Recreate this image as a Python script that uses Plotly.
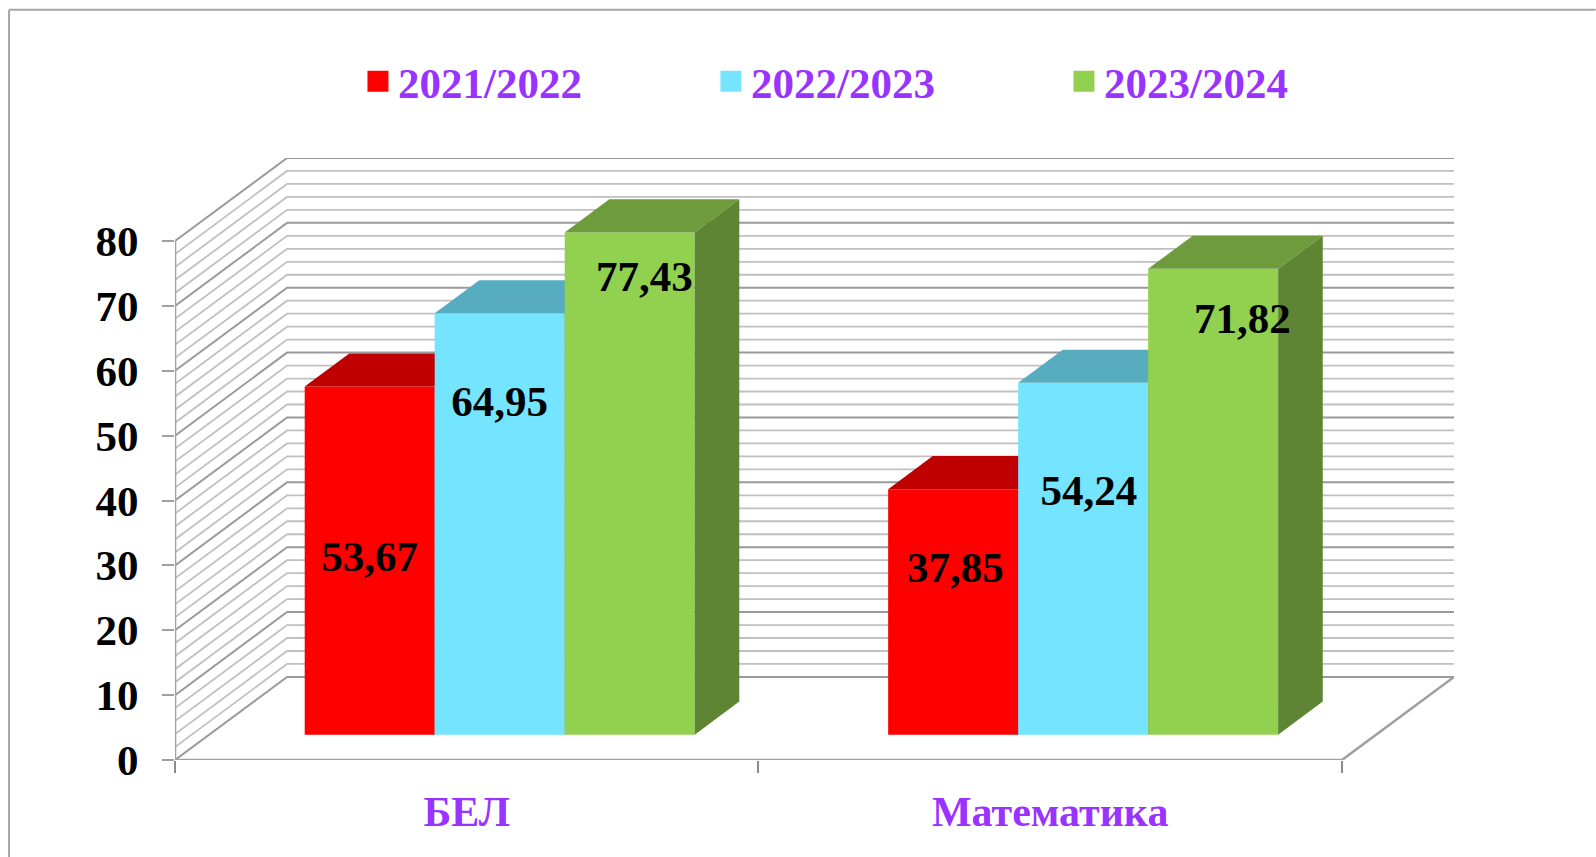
import plotly.graph_objects as go

# ---- data ----
categories = ["БЕЛ", "Математика"]
series_names = ["2021/2022", "2022/2023", "2023/2024"]
values_2122 = [53.67, 37.85]
values_2223 = [64.95, 54.24]
values_2324 = [77.43, 71.82]
label_text_2122 = ["53,67", "37,85"]
label_text_2223 = ["64,95", "54,24"]
label_text_2324 = ["77,43", "71,82"]
y_ticks = [0, 10, 20, 30, 40, 50, 60, 70, 80]
y_minor = list(range(0, 82, 2))

# ---- style / geometry ----
FRONT = ["#FF0000", "#75E5FF", "#92D050"]
TOP = ["#BE0000", "#58ACBF", "#6E9C3C"]
SIDE = ["#A80000", "#4C95A6", "#5E8533"]
PURPLE = "#9933FF"
FONT = "Liberation Serif"
FS = 43
W, H = 1596, 857
L, R, T, B = 175.0, 1454.3, 157.7, 760.0   # plot area in page pixels
CAT_PX = 583.6
UNIT_PX = 6.49
DX = (R - L) / CAT_PX - 2                    # oblique shift of the full depth, x units
DY = (B - T) / UNIT_PX - 80                  # oblique shift of the full depth, y units
XMAX, YMAX = 2 + DX, 80 + DY
BAR_W = 0.2228
GROUP_OFF = 0.1637
D_FRONT = 0.305
D_DEPTH = 0.398
# placement of the value labels (x offset from bar centre, y on the value axis)
label_dx = [[0.0, 0.004], [0.0, 0.010], [0.025, 0.050]]
label_y = [[30.75, 29.05], [54.65, 40.95], [73.95, 67.5]]

fig = go.Figure()

# ---- walls and floor ----
GRID_MAJ, GRID_MIN = "#9A9A9A", "#C0C0C0"
def wall(ys, color, width):
    xs_all, ys_all = [], []
    for y in ys:
        xs_all += [0, DX, XMAX, None]
        ys_all += [y, y + DY, y + DY, None]
    fig.add_trace(go.Scatter(x=xs_all, y=ys_all, mode="lines", showlegend=False, hoverinfo="skip",
                             line=dict(color=color, width=width), cliponaxis=False))
wall([v for v in y_minor if v % 10], GRID_MIN, 1.8)
wall(y_ticks, GRID_MAJ, 2)
fig.add_trace(go.Scatter(x=[0, 0, 2, XMAX], y=[80, 0, 0, DY], mode="lines", showlegend=False,
                         hoverinfo="skip", line=dict(color="#A0A0A0", width=2.6), cliponaxis=False))

# ---- legend entries ----
for name, col in zip(series_names, FRONT):
    fig.add_trace(go.Scatter(x=[None], y=[None], mode="markers", name=name,
                             marker=dict(symbol="square", size=16, color=col, line=dict(color=col, width=5))))

# ---- bars, one overlay per series so nearer bars hide farther faces ----
series = [values_2122, values_2223, values_2324]
base = D_FRONT * DY
for i, vals in enumerate(series):
    ax = str(i + 2)
    xa, ya = "x" + ax, "y" + ax
    lefts = [c + GROUP_OFF + D_FRONT * DX + i * BAR_W for c in range(len(categories))]
    fig.add_trace(go.Bar(x=[l + BAR_W / 2 for l in lefts], y=vals, base=base, width=BAR_W,
                         marker=dict(color=FRONT[i], line=dict(width=0)), name=series_names[i],
                         showlegend=False, xaxis=xa, yaxis=ya))
    bx, by = D_DEPTH * DX, D_DEPTH * DY
    for l, v in zip(lefts, vals):
        r = l + BAR_W
        top = base + v
        fig.add_trace(go.Scatter(x=[l, r, r + bx, l + bx, l], y=[top, top, top + by, top + by, top],
                                 mode="lines", fill="toself", fillcolor=TOP[i], line=dict(width=0),
                                 showlegend=False, hoverinfo="skip", xaxis=xa, yaxis=ya))
        fig.add_trace(go.Scatter(x=[r, r + bx, r + bx, r, r], y=[top, top + by, base + by, base, top],
                                 mode="lines", fill="toself", fillcolor=SIDE[i], line=dict(width=0),
                                 showlegend=False, hoverinfo="skip", xaxis=xa, yaxis=ya))

# ---- value labels ----
texts = [label_text_2122, label_text_2223, label_text_2324]
for i in range(3):
    xs = [c + GROUP_OFF + D_FRONT * DX + (i + 0.5) * BAR_W + label_dx[i][c] for c in range(2)]
    fig.add_trace(go.Scatter(x=xs, y=label_y[i], mode="text", text=texts[i], textposition="middle center",
                             textfont=dict(family=FONT, size=FS, color="#000000", weight=700),
                             showlegend=False, hoverinfo="skip", xaxis="x5", yaxis="y5", cliponaxis=False))

# ---- layout ----
layout = dict(
    width=W, height=H, autosize=False,
    margin=dict(l=L, r=W - R, t=T, b=H - B, pad=0),
    paper_bgcolor="white", plot_bgcolor="rgba(0,0,0,0)", barmode="overlay",
    xaxis=dict(range=[0, XMAX], showgrid=False, zeroline=False, showline=False,
               tickvals=[0.5, 1.5], ticktext=categories, ticks="", ticklabelstandoff=23,
               tickfont=dict(family=FONT, size=42, color=PURPLE, weight=700),
               minor=dict(tickmode="array", tickvals=[0, 1, 2], ticks="outside", ticklen=12,
                          tickwidth=1.5, tickcolor="#8C8C8C", showgrid=False)),
    yaxis=dict(range=[0, YMAX], showgrid=False, zeroline=False, showline=False,
               tickvals=y_ticks, ticks="outside", ticklen=12, tickwidth=1.8, tickcolor="#A0A0A0",
               ticklabelstandoff=15,
               tickfont=dict(family=FONT, size=FS, color="#000000", weight=700)),
    legend=dict(orientation="h", x=(358 - L) / (R - L), xanchor="left", y=1 + (T - 81) / (B - T), yanchor="middle",
                font=dict(family=FONT, size=FS, color=PURPLE, weight=700),
                entrywidth=308, entrywidthmode="pixels", itemwidth=30, bgcolor="rgba(0,0,0,0)",
                traceorder="normal", itemclick=False, itemdoubleclick=False),
    shapes=[
        dict(type="line", xref="paper", yref="paper", x0=(9 - L) / (R - L), x1=(W - L) / (R - L),
             y0=1 + (T - 9.5) / (B - T), y1=1 + (T - 9.5) / (B - T), line=dict(color="#A6A6A6", width=2)),
        dict(type="line", xref="paper", yref="paper", x0=(9 - L) / (R - L), x1=(9 - L) / (R - L),
             y0=1 + (T - 9.5) / (B - T), y1=-(H - B) / (B - T), line=dict(color="#A6A6A6", width=2)),
    ],
)
for k in range(2, 6):
    layout[f"xaxis{k}"] = dict(range=[0, XMAX], overlaying="x", visible=False, anchor=f"y{k}")
    layout[f"yaxis{k}"] = dict(range=[0, YMAX], overlaying="y", visible=False, anchor=f"x{k}")
fig.update_layout(**layout)

fig.write_html("out.html", config=dict(displayModeBar=False),
               post_script="document.body.style.margin='0';document.body.style.overflow='hidden';")
